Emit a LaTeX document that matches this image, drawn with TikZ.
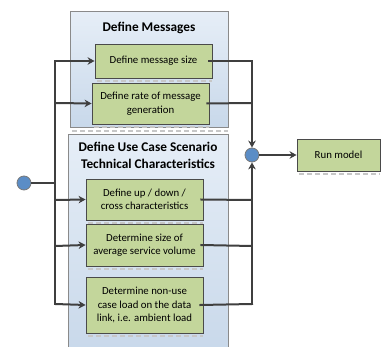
\documentclass[tikz,border=0pt]{standalone}
\usepackage{fontspec}
\setmainfont{Carlito}
\usetikzlibrary{arrows.meta,calc}
\definecolor{lineC}{HTML}{3F3F3F}
\definecolor{contFillT}{HTML}{E6EEF7}
\definecolor{contFillB}{HTML}{C8D8EA}
\definecolor{contDraw}{HTML}{8A8A8A}
\definecolor{boxFill}{HTML}{C3D69B}
\definecolor{boxDraw}{HTML}{4A4A4A}
\definecolor{dotFill}{HTML}{5B8DC6}
\tikzset{
  cont/.style={draw=contDraw,line width=1pt,top color=contFillT,bottom color=contFillB,inner sep=0pt},
  taskbox/.style={draw=boxDraw,line width=0.9pt,fill=boxFill,align=center,font=\fontsize{10.8}{13.5}\selectfont,inner sep=0pt},
  ttl/.style={font=\bfseries\fontsize{13.3}{16.5}\selectfont,align=center,text=black},
  dot/.style={circle,draw=lineC!70,line width=0.8pt,fill=dotFill,minimum size=14pt,inner sep=0pt},
  conn/.style={draw=lineC,line width=2pt},
  arr/.style={conn,-{Stealth[length=7pt,width=7.5pt]}},
  shad/.style={draw=black!22,line width=1.2pt,dash pattern=on 5pt off 3pt},
}
\begin{document}
\begin{tikzpicture}[x=1pt,y=-1pt]
\useasboundingbox (0,0) rectangle (384,347);
\begin{scope}
\clip (0,0) rectangle (384,347);
% containers
\node[cont,minimum width=158pt,minimum height=116pt] (topC) at (149,70) {};
\node[cont,minimum width=160pt,minimum height=220pt] (botC) at (148,245) {};
\end{scope}
\draw[shad] (72,131) -- (228,131);
\node[ttl] (topT) at (149,28) {Define Messages};
\node[ttl] (botT) at (148,155.5) {Define Use Case Scenario\\Technical Characteristics};
% shadows
\draw[shad] (97,81) -- (212,81);
\draw[shad] (94,127) -- (209,127);
\draw[shad] (88,223) -- (203,223);
\draw[shad] (88,269) -- (203,269);
\draw[shad] (88,336) -- (203,336);
\draw[shad] (299,174) -- (380,174);
% task boxes
\node[taskbox,minimum width=117pt,minimum height=34pt] (b1) at (153.5,61) {Define message size};
\node[taskbox,minimum width=117pt,minimum height=41pt] (b2) at (150.5,103.5) {Define rate of message\\generation};
\node[taskbox,minimum width=117pt,minimum height=41pt] (b3) at (144.5,199.5) {Define up / down /\\cross characteristics};
\node[taskbox,minimum width=117pt,minimum height=42pt] (b4) at (144.5,245) {Determine size of\\average service volume};
\node[taskbox,minimum width=117pt,minimum height=56pt] (b5) at (144.5,305) {Determine non-use\\case load on the data\\link, i.e. ambient load};
\node[taskbox,minimum width=83pt,minimum height=32pt] (run) at (338.5,155) {Run model};
% circles
\node[dot] (start) at (24,183) {};
\node[dot] (merge) at (252,155) {};
% coordinates
\coordinate (L1) at (55,61);
\coordinate (L2) at (55,103);
\coordinate (L0) at (55,183);
\coordinate (L3) at (55,200);
\coordinate (L4) at (55,246);
\coordinate (L5) at (55,304);
\coordinate (R1) at (252,61);
\coordinate (R2) at (252,103);
\coordinate (R3) at (252,200);
\coordinate (R4) at (252,246);
\coordinate (R5) at (252,304);
% left side
\draw[conn] (start) -- (L0);
\draw[conn,line cap=rect] (L1) -- (L5);
\draw[arr] (L1) -- (b1.west);
\draw[arr] (L2) -- (b2.west);
\draw[arr] (L3) -- (b3.west);
\draw[arr] (L4) -- (b4.west);
\draw[arr] (L5) -- (b5.west);
% right side
\draw[conn,line cap=rect] ([xshift=-3pt]b1.east) -- (R1);
\draw[arr] (R1) -- (merge.north);
\draw[conn] ([xshift=-3pt]b2.east) -- (R2);
\draw[conn] ([xshift=-3pt]b3.east) -- (R3);
\draw[conn] ([xshift=-3pt]b4.east) -- (R4);
\draw[conn,line cap=rect] ([xshift=-3pt]b5.east) -- (R5);
\draw[arr] (R5) -- (merge.south);
\draw[arr] (merge) -- (run.west);
\end{tikzpicture}
\end{document}
